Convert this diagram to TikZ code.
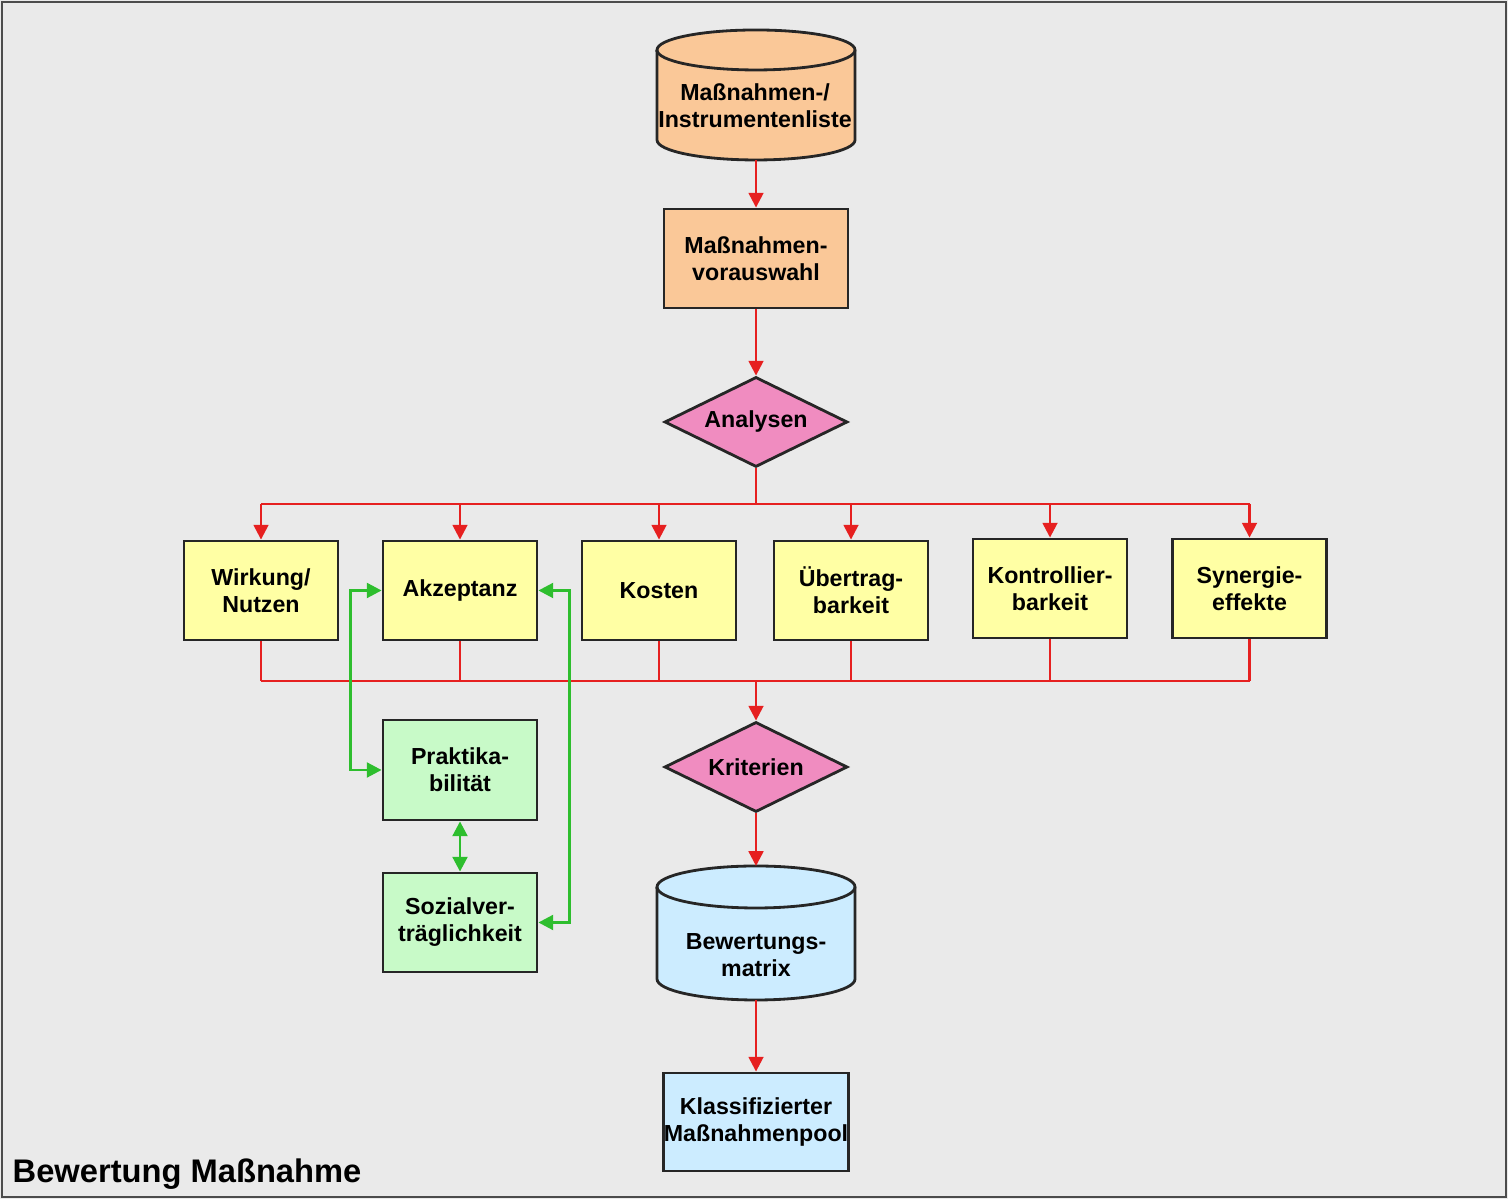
\documentclass[tikz,border=0pt]{standalone}
\usepackage{fontspec}
\setmainfont{Liberation Sans}
\usetikzlibrary{arrows.meta,shapes.geometric}
\tikzset{>={Triangle[length=4.2pt,width=4.2pt]}}
\definecolor{bgfill}{HTML}{EAEAEA}
\definecolor{orangefill}{HTML}{FAC898}
\definecolor{pinkfill}{HTML}{F08CC0}
\definecolor{yellowfill}{HTML}{FFFFA4}
\definecolor{greenfill}{HTML}{C8FAC8}
\definecolor{bluefill}{HTML}{CCECFF}
\definecolor{redline}{HTML}{E62020}
\definecolor{greenline}{HTML}{2EBE2E}

\begin{document}
\begin{tikzpicture}[
  txt/.style={font=\bfseries\fontsize{6.6}{7.7}\selectfont,align=center,inner sep=0},
  box/.style={txt,draw=black!85,line width=0.8pt,minimum width=1.54cm,minimum height=0.99cm},
  frame/.style={minimum width=1.98cm,inner sep=0,outer sep=0},
  rhombus/.style={txt,diamond,draw=black!85,line width=0.8pt,fill=pinkfill,aspect=2,minimum width=1.83cm,minimum height=0.9cm},
  rline/.style={draw=redline,line width=0.7pt},
  gline/.style={draw=greenline,line width=0.8pt}]
% background and frame
\fill[bgfill] (0,0) rectangle (15.08,11.99);
\draw[black!70,line width=0.7pt] (0.02,0.02) rectangle (15.06,11.97);
% top of the chart
\node[frame,minimum height=1.30cm] (liste) at (7.56,11.04) {};
\draw[box,fill=orangefill] ([yshift=-2mm]liste.north west) -- ([yshift=2mm]liste.south west)
  arc[start angle=180,end angle=360,x radius=0.99,y radius=0.2] -- ([yshift=-2mm]liste.north east)
  arc[start angle=0,end angle=180,x radius=0.99,y radius=0.2] -- cycle;
\draw[box] ([yshift=-2mm]liste.north west) arc[start angle=180,end angle=360,x radius=0.99,y radius=0.2];
\node[txt] (listetext) at (7.55,10.93) {Maßnahmen-/\\Instrumentenliste};
\node[box,fill=orangefill,minimum width=1.84cm] (vorauswahl) at (7.56,9.405) {Maßnahmen-\\vorauswahl};
\node[rhombus] (analysen) at (7.56,7.77) {Analysen};
% criteria row
\node[box,fill=yellowfill] (wirkung) at (2.61,6.085) {Wirkung/\\Nutzen};
\node[box,fill=yellowfill] (akzeptanz) at (4.60,6.085) {Akzeptanz};
\node[box,fill=yellowfill] (kosten) at (6.59,6.085) {Kosten};
\node[box,fill=yellowfill] (uebertrag) at (8.51,6.085) {Übertrag-\\barkeit};
\node[box,fill=yellowfill] (kontroll) at (10.50,6.105) {Kontrollier-\\barkeit};
\node[box,fill=yellowfill] (synergie) at (12.495,6.105) {Synergie-\\effekte};
\node[box,fill=greenfill,minimum height=1cm] (praktika) at (4.60,4.29) {Praktika-\\bilität};
\node[box,fill=greenfill] (sozial) at (4.60,2.765) {Sozialver-\\träglichkeit};
% bottom of the chart
\node[rhombus] (kriterien) at (7.56,4.32) {Kriterien};
\node[frame,minimum height=1.34cm] (matrix) at (7.56,2.66) {};
\draw[box,fill=bluefill] ([yshift=-2.1mm]matrix.north west) -- ([yshift=2.1mm]matrix.south west)
  arc[start angle=180,end angle=360,x radius=0.99,y radius=0.21] -- ([yshift=-2.1mm]matrix.north east)
  arc[start angle=0,end angle=180,x radius=0.99,y radius=0.21] -- cycle;
\draw[box] ([yshift=-2.1mm]matrix.north west) arc[start angle=180,end angle=360,x radius=0.99,y radius=0.21];
\node[txt] (matrixtext) at (7.56,2.44) {Bewertungs-\\matrix};
\node[box,fill=bluefill,minimum width=1.84cm,minimum height=0.98cm] (pool) at (7.56,0.77) {Klassifizierter\\Maßnahmenpool};
\node[anchor=base west,font=\bfseries\fontsize{9.3}{11}\selectfont,inner sep=0] (titel) at (0.12,0.16) {Bewertung Maßnahme};
% red flow
\coordinate (split) at (7.56,6.95);
\coordinate (merge) at (7.56,5.18);
\draw[rline,->] (liste.south) -- (vorauswahl.north);
\draw[rline,->] (vorauswahl.south) -- (analysen.north);
\draw[rline] (analysen.south) -- (split);
\draw[rline] (wirkung.north |- split) -- (synergie.north |- split);
\foreach \n in {wirkung,akzeptanz,kosten,uebertrag,kontroll,synergie}{
  \draw[rline,->] (\n.north |- split) -- (\n.north);
  \draw[rline] (\n.south) -- (\n.south |- merge);
}
\draw[rline] (wirkung.south |- merge) -- (synergie.south |- merge);
\draw[rline,->] (merge) -- (kriterien.north);
\draw[rline,->] (kriterien.south) -- (matrix.north);
\draw[rline,->] (matrix.south) -- (pool.north);
% green links
\draw[gline,<->] (akzeptanz.west) -- ++(-0.31,0) |- (praktika.west);
\draw[gline,<->] (akzeptanz.east) -- ++(0.31,0) |- (sozial.east);
\draw[gline,<->] (praktika.south) -- (sozial.north);
\end{tikzpicture}
\end{document}
